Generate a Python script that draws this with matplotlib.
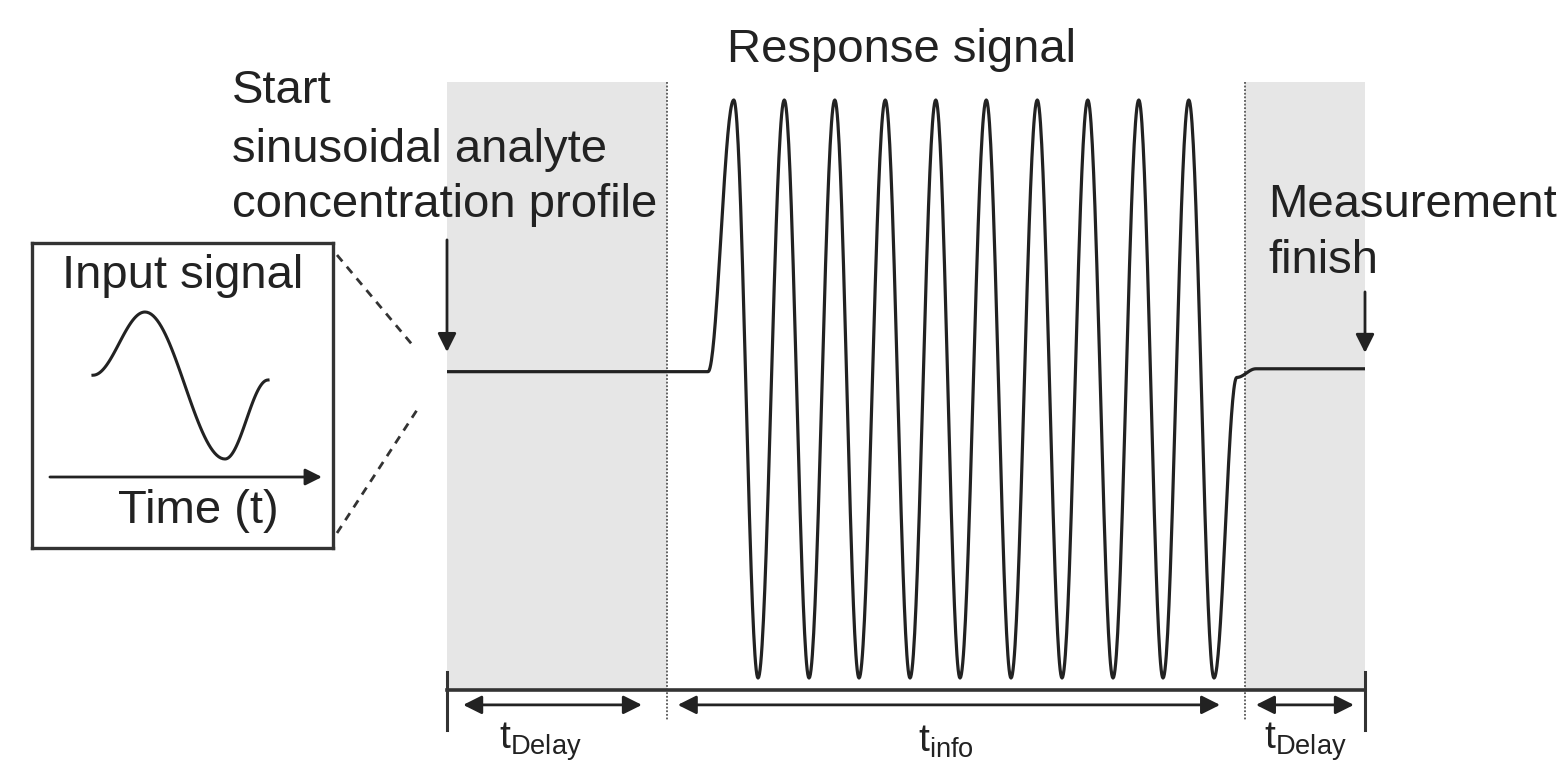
import numpy as np
import matplotlib.pyplot as plt

plt.rcParams['font.family'] = 'Liberation Sans'
plt.rcParams['mathtext.fontset'] = 'custom'
plt.rcParams['mathtext.rm'] = 'Liberation Sans'

# response signal (time in oscillation periods, signal normalised to +-1)
peak_t = [5.68, 6.68, 7.68, 8.68, 9.68, 10.68, 11.69, 12.69, 13.70, 14.69]
trough_t = [6.16, 7.17, 8.16, 9.17, 10.16, 11.17, 12.18, 13.19, 14.18, 15.19]
start_t = [0.0, 5.17]
start_v = [0.06, 0.06]
end_t = [15.64, 16.02, 18.18]
end_v = [0.04, 0.07, 0.07]

# phases of the measurement
t_delay1 = 4.36
t_info_end = 15.80
t_finish = 18.18

# input signal in the inset (time in periods)
input_t = [-0.075, 0.25, 0.75, 1.019]
input_v = [0.14, 1.0, -1.0, 0.075]

line_c = '#222222'
gray = '#e6e6e6'


def eased(t_keys, v_keys, n=40):
    ts, vs = [], []
    for i in range(len(t_keys) - 1):
        s = np.linspace(0, 1, n)
        ts.append(t_keys[i] + (t_keys[i + 1] - t_keys[i]) * s)
        vs.append(v_keys[i] + (v_keys[i + 1] - v_keys[i]) * (1 - np.cos(np.pi * s)) / 2)
    return np.concatenate(ts), np.concatenate(vs)


resp_t = list(start_t)
resp_v = list(start_v)
for p, q in zip(peak_t, trough_t):
    resp_t += [p, q]
    resp_v += [1.0, -1.0]
resp_t += end_t
resp_v += end_v

W, H = 1567, 762
fig = plt.figure(figsize=(W / 100, H / 100), dpi=100)

# main signal axes
ax = fig.add_axes([447 / W, (H - 690) / H, 918 / W, 608 / H])
ybot, ytop = -1.0415, 1.0623
ax.set_xlim(0, t_finish)
ax.set_ylim(ybot, ytop)
ax.axis('off')

ax.axvspan(0, t_delay1, color=gray, lw=0)
ax.axvspan(t_info_end, t_finish, color=gray, lw=0)
for xv in [t_delay1, t_info_end]:
    ax.plot([xv, xv], [ytop, -1.145], ls=(0, (1, 1)), color='#555555', lw=1.3, clip_on=False)

x, y = eased(resp_t, resp_v)
ax.plot(x, y, color=line_c, lw=2.3, solid_capstyle='round')

# time axis with end ticks
ax.plot([0, t_finish], [ybot, ybot], color='#333333', lw=2.6, clip_on=False)
for xv in [0, t_finish]:
    ax.plot([xv, xv], [-0.979, -1.18], color='#333333', lw=2.2, clip_on=False)

arr2 = dict(arrowstyle='<|-|>', color=line_c, lw=2, mutation_scale=28, shrinkA=0, shrinkB=0)
for a, b in [(0.32, 3.86), (4.57, 15.31), (16.02, 17.96)]:
    ax.annotate('', xy=(b, -1.093), xytext=(a, -1.093), arrowprops=arr2, annotation_clip=False)

arr1 = dict(arrowstyle='-|>', color=line_c, lw=2, mutation_scale=28, shrinkA=0, shrinkB=0)
ax.annotate('', xy=(0, 0.128), xytext=(0, 0.516), arrowprops=arr1, annotation_clip=False)
ax.annotate('', xy=(t_finish, 0.125), xytext=(t_finish, 0.336), arrowprops=arr1, annotation_clip=False)

lab_y = -1.22
ax.text(1.84, lab_y, r'$\mathrm{t_{Delay}}$', ha='center', va='center', fontsize=28, color='#222222', clip_on=False)
ax.text(9.88, lab_y, r'$\mathrm{t_{info}}$', ha='center', va='center', fontsize=28, color='#222222', clip_on=False)
ax.text(16.99, lab_y, r'$\mathrm{t_{Delay}}$', ha='center', va='center', fontsize=28, color='#222222', clip_on=False)

# inset: input signal
ins = fig.add_axes([32 / W, (H - 548) / H, 301 / W, 305 / H])
ins.set_xlim(-0.456, 1.425)
ins.set_ylim(-2.211, 1.939)
ins.set_xticks([])
ins.set_yticks([])
for sp in ins.spines.values():
    sp.set_linewidth(2.4)
    sp.set_color('#333333')
xi, yi = eased(input_t, input_v)
ins.plot(xi, yi, color=line_c, lw=2.2)
ins.annotate('', xy=(1.356, -1.245), xytext=(-0.344, -1.245),
             arrowprops=dict(arrowstyle='-|>', color=line_c, lw=2, mutation_scale=25, shrinkA=0, shrinkB=0))

# layout canvas in pixel units for text and connector lines (drawn on top)
lay = fig.add_axes([0, 0, 1, 1])
lay.set_xlim(0, W)
lay.set_ylim(H, 0)
lay.axis('off')
lay.patch.set_alpha(0)

fs = 34
txt = dict(fontsize=fs, color='#222222', va='baseline', ha='left')
lay.text(727, 62, 'Response signal', **txt)
lay.text(232, 103, 'Start', **txt)
lay.text(232, 162, 'sinusoidal analyte', **txt)
lay.text(232, 217, 'concentration profile', **txt)
lay.text(1268, 217, 'Measurement', **txt)
lay.text(1268, 273, 'finish', **txt)
lay.text(62, 288, 'Input signal', **txt)
lay.text(118, 523, 'Time (t)', **txt)

lay.plot([337, 415], [255, 348], ls=(0, (3, 2.5)), color='#333333', lw=2)
lay.plot([337, 417], [533, 410], ls=(0, (3, 2.5)), color='#333333', lw=2)

fig.savefig('out.png', dpi=100)
